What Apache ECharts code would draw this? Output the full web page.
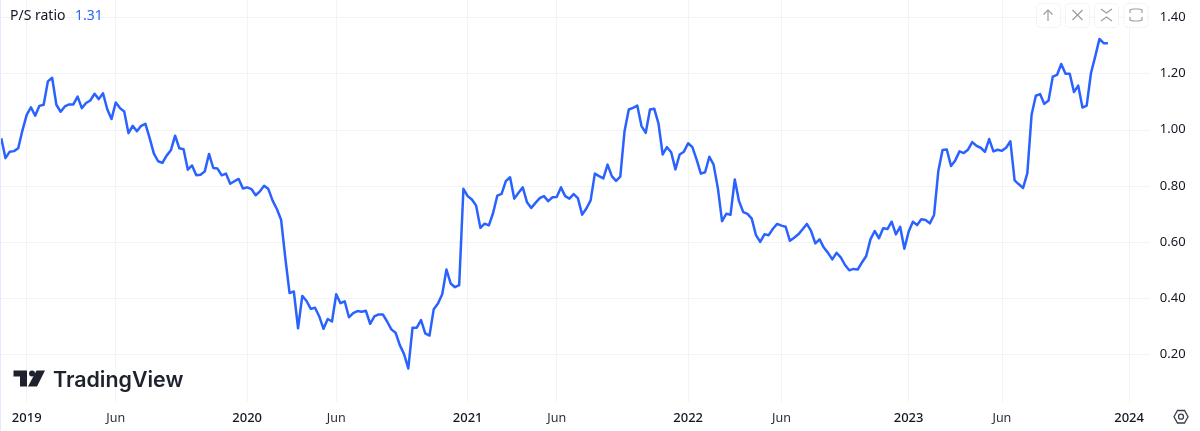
<!DOCTYPE html>
<html><head><meta charset="utf-8">
<style>html,body{margin:0;padding:0;background:#fff}#c{width:1200px;height:431px}</style>
<script src="https://cdn.jsdelivr.net/npm/echarts@6/dist/echarts.min.js"></script>
</head><body><div id="c"></div>
<script>
const psRatio = [
0.970,0.899,0.922,0.924,0.934,0.998,1.053,1.080,1.050,1.085,1.089,1.172,1.185,1.089,1.064,1.083,1.090,1.090,1.118,1.077,
1.095,1.104,1.128,1.109,1.130,1.073,1.038,1.097,1.077,1.065,0.988,1.014,0.995,1.014,1.021,0.970,0.915,0.888,0.882,0.908,
0.927,0.979,0.934,0.931,0.858,0.873,0.838,0.840,0.852,0.914,0.864,0.862,0.838,0.844,0.808,0.817,0.825,0.791,0.795,0.789,
0.767,0.781,0.801,0.789,0.748,0.718,0.680,0.543,0.419,0.425,0.294,0.409,0.391,0.363,0.367,0.336,0.292,0.327,0.318,0.415,
0.383,0.390,0.333,0.348,0.355,0.353,0.356,0.310,0.336,0.343,0.343,0.318,0.290,0.278,0.234,0.202,0.151,0.296,0.296,0.323,
0.276,0.268,0.362,0.382,0.415,0.503,0.453,0.440,0.447,0.790,0.764,0.752,0.730,0.651,0.666,0.660,0.704,0.766,0.772,0.817,
0.831,0.755,0.776,0.795,0.742,0.722,0.740,0.757,0.764,0.746,0.760,0.761,0.795,0.764,0.755,0.771,0.757,0.698,0.720,0.749,
0.844,0.835,0.827,0.876,0.835,0.818,0.833,0.995,1.072,1.078,1.086,1.013,0.989,1.072,1.075,1.023,0.912,0.938,0.920,0.859,
0.912,0.922,0.952,0.938,0.894,0.844,0.849,0.904,0.876,0.793,0.675,0.701,0.698,0.823,0.746,0.707,0.701,0.684,0.625,0.601,
0.628,0.625,0.648,0.665,0.659,0.655,0.605,0.616,0.628,0.646,0.665,0.640,0.596,0.610,0.581,0.562,0.539,0.562,0.546,0.519,
0.500,0.505,0.503,0.528,0.551,0.610,0.640,0.614,0.650,0.647,0.673,0.628,0.655,0.577,0.637,0.673,0.661,0.682,0.679,0.667,
0.697,0.852,0.928,0.930,0.871,0.891,0.923,0.917,0.929,0.956,0.943,0.936,0.921,0.967,0.923,0.929,0.925,0.936,0.959,0.820,
0.806,0.793,0.846,1.053,1.121,1.127,1.092,1.104,1.189,1.195,1.234,1.199,1.199,1.134,1.157,1.079,1.086,1.201,1.260,1.323,
1.308,1.308];
const tickWeeks  = [6,27,58,79,110,131,162,184,214,236,266];
const tickLabels = ['2019','Jun','2020','Jun','2021','Jun','2022','Jun','2023','Jun','2024'];
const priceTicks = [0.2,0.4,0.6,0.8,1.0,1.2,1.4];
const seriesName = 'P/S ratio';
const lastValue  = '1.31';
const weekCount  = 272;
const weeks = [];
for (let i = 0; i < weekCount; i++) weeks.push(new Date(Date.UTC(2018,10,25) + i*7*864e5).toISOString().slice(0,10));

const FONT = '"Noto Sans", sans-serif';
const INK = '#131722', GRID = '#f2f3f5', BTN = '#eceef1', ICON = '#9a9da3', BLUE = '#2962FF';
const isTick = i => tickWeeks.includes(i);

function btn(x){return {type:'rect',shape:{x:x+.5,y:3.5,width:24,height:24,r:4},style:{fill:'#fff',stroke:BTN,lineWidth:1,lineDash:[2,1]},z:10};}
function pl(pts,stroke,lw){return {type:'polyline',shape:{points:pts},style:{fill:null,stroke:stroke||ICON,lineWidth:lw||1.2},z:11};}

const chart = echarts.init(document.getElementById('c'),null,{renderer:'canvas'});
chart.setOption({
  animation:false,
  backgroundColor:'#fff',
  grid:{left:1.26,right:49.7,top:0,bottom:29},
  xAxis:{
    type:'category',data:weeks,boundaryGap:false,
    axisLine:{show:false},
    axisTick:{show:false,interval:(i)=>isTick(i)},
    splitLine:{show:true,interval:(i)=>isTick(i),lineStyle:{color:GRID,width:1}},
    axisLabel:{
      interval:(i)=>isTick(i),margin:9.5,hideOverlap:false,
      formatter:(v,i)=>{
        const l=tickLabels[tickWeeks.indexOf(i)];
        return /^\d/.test(l)?'{y|'+l+'}':'{m|'+l+'}';
      },
      rich:{
        y:{fontFamily:FONT,fontSize:13,fontWeight:500,color:INK},
        m:{fontFamily:FONT,fontSize:12.5,fontWeight:400,color:'#2a2e39'}
      }
    }
  },
  yAxis:{
    type:'value',position:'right',min:0.0317,max:1.4615,
    axisLine:{show:false},
    axisTick:{show:false,customValues:priceTicks},
    splitLine:{show:true,lineStyle:{color:GRID,width:1}},
    axisLabel:{customValues:priceTicks,inside:false,margin:9.5,padding:[2,0,0,0],fontFamily:FONT,fontSize:13,color:INK,formatter:v=>v.toFixed(2)}
  },
  series:[{name:seriesName,type:'line',data:psRatio,showSymbol:false,symbol:'none',clip:true,
    lineStyle:{color:BLUE,width:2.5,join:'round'}}],
  graphic:[
    {type:'rect',shape:{x:0,y:0,width:1,height:431},style:{fill:'#e6eafc'},z:9},
    {type:'text',x:10,y:9.5,style:{text:seriesName,fontFamily:FONT,fontSize:14,fill:INK},z:10},
    {type:'text',x:75,y:9.5,style:{text:lastValue,fontFamily:FONT,fontSize:14,fill:BLUE},z:10},
    // logo
    {type:'polygon',shape:{points:[[13.5,370.5],[27,370.5],[27,386.5],[20,386.5],[20,376.5],[13.5,376.5]]},style:{fill:'#1e222d'},z:10},
    {type:'circle',shape:{cx:32,cy:373.6,r:3},style:{fill:'#1e222d'},z:10},
    {type:'polygon',shape:{points:[[36.5,370.5],[45,370.5],[37,386.5],[28,386.5]]},style:{fill:'#1e222d'},z:10},
    {type:'text',x:53,y:370,style:{text:'TradingView',fontFamily:'Inter, sans-serif',fontSize:21.4,fontWeight:600,fill:'#1e222d'},z:10},
    // toolbar
    btn(1036),btn(1065),btn(1094),btn(1123.5),
    pl([[1048,21],[1048,10]]),pl([[1043.5,14.5],[1048,10],[1052.5,14.5]]),
    pl([[1072.5,10],[1082.5,20]]),pl([[1082.5,10],[1072.5,20]]),
    pl([[1101,9],[1106.5,13],[1112,9]]),pl([[1101,21],[1106.5,17],[1112,21]]),
    pl([[1130,13],[1130,10],[1133,9],[1139,9],[1142,10],[1142,13]]),
    pl([[1130,17],[1130,20],[1133,21],[1139,21],[1142,20],[1142,17]]),
    // settings
    {type:'polygon',shape:{points:[[1174,416.7],[1177.5,410.5],[1184.5,410.5],[1188,416.7],[1184.5,423],[1177.5,423]]},style:{fill:'#fff',stroke:'#3a3e48',lineWidth:1.3},z:10},
    {type:'circle',shape:{cx:1181,cy:416.7,r:2.5},style:{fill:'#fff',stroke:'#3a3e48',lineWidth:1.3},z:11}
  ]
});
</script></body></html>
